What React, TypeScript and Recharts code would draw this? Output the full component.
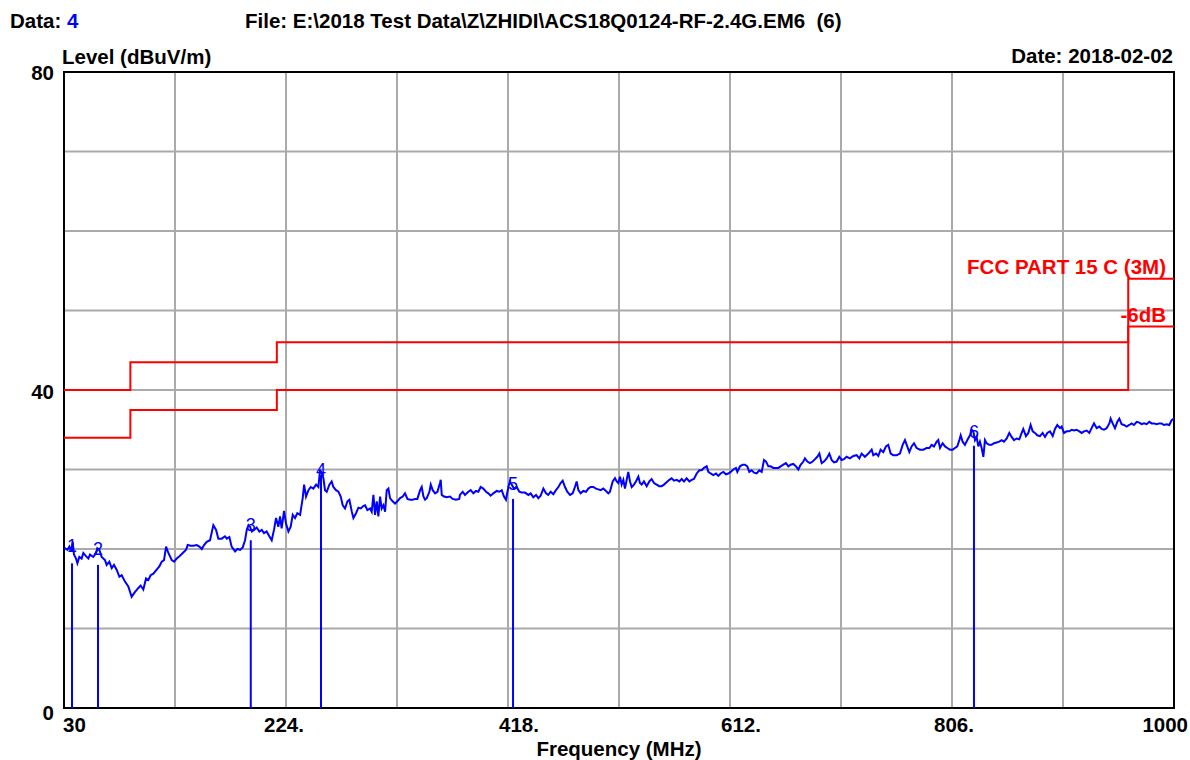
import React from "react";
import {
  LineChart,
  Line,
  XAxis,
  YAxis,
  CartesianGrid,
  ReferenceLine,
  ReferenceDot,
  ReferenceArea,
} from "recharts";

const FONT = '"Liberation Sans", Arial, sans-serif';
const BLUE = "#0000ff";
const RED = "#ff0000";

// axis ticks (grid every 97 MHz / 10 dB)
const xTicks = [30, 127, 224, 321, 418, 515, 612, 709, 806, 903, 1000];
const xTickLabels: Record<number, string> = {
  30: "30",
  224: "224.",
  418: "418.",
  612: "612.",
  806: "806.",
  1000: "1000",
};
const yTicks = [0, 10, 20, 30, 40, 50, 60, 70, 80];
const yTickLabels: Record<number, string> = { 0: "0", 40: "40", 80: "80" };

// FCC Part 15 C (3M) limit and the -6dB margin line
const limitMHz = [30, 88, 216, 960, 1000];
const limitLevel = [40, 43.5, 46, 54, 54];
const marginLevel = [34, 37.5, 40, 48, 48];

// markers: frequency, measured level (line), peak reading (label)
const markerNames = ["1", "2", "3", "4", "5", "6"];
const markerMHz = [37.0, 59.7, 193.2, 254.6, 422.4, 825.2];
const markerLevel = [18.2, 18.0, 21.1, 29.3, 26.3, 33.0];
const markerPeak = [20.4, 20.0, 23.0, 29.9, 28.2, 34.7];

// measured trace [MHz, dBuV/m]
const trace: [number, number][] = [
  [30, 20.0], [30.9, 20.1], [32.9, 19.9], [34.7, 20.3], [36.1, 19.7], [37.6, 20.9], [38.7, 19.3],
  [40.5, 18.8], [41.7, 18.2], [43.4, 19.0], [45.4, 18.8], [46.9, 19.5], [49.2, 19.1], [51.3, 18.8],
  [52.7, 19.3], [55.6, 19.0], [58.0, 19.5], [59.1, 20.1], [60.9, 19.9], [62.9, 19.0], [65.8, 18.6],
  [67.3, 18.0], [69.6, 18.4], [71.7, 17.6], [73.7, 18.0], [76.0, 17.4], [78.4, 16.5], [80.4, 16.7],
  [83.3, 15.9], [86.2, 15.3], [89.1, 14.0], [92.1, 14.6], [95.0, 15.1], [97.0, 15.4], [99.3, 14.9],
  [101.7, 16.3], [103.7, 16.1], [105.7, 16.7], [108.1, 16.9], [111.0, 17.4], [113.3, 17.8],
  [115.4, 18.4], [117.4, 18.6], [119.2, 20.3], [121.2, 19.5], [124.2, 18.6], [126.2, 18.4],
  [128.5, 18.8], [130.9, 19.1], [133.8, 19.5], [136.7, 19.9], [138.1, 20.5], [140.7, 20.4],
  [143.1, 20.4], [146.0, 20.5], [148.3, 20.3], [150.4, 20.0], [152.4, 20.5], [154.7, 20.9],
  [157.6, 21.1], [160.5, 23.0], [162.9, 22.4], [164.9, 21.3], [167.8, 21.3], [170.7, 21.6],
  [172.2, 21.3], [174.5, 21.5], [176.5, 20.3], [179.5, 19.7], [181.5, 20.0], [183.9, 19.9],
  [186.2, 20.2], [188.2, 21.1], [189.7, 22.4], [191.2, 23.0], [192.6, 22.8], [194.1, 22.2],
  [196.1, 22.4], [198.4, 22.7], [200.7, 22.2], [202.8, 22.4], [204.8, 22.0], [207.1, 22.2],
  [209.4, 21.6], [211.5, 21.1], [213.5, 22.4], [215.3, 23.9], [217.3, 22.8], [218.8, 24.1],
  [220.2, 22.6], [222.3, 24.8], [224.0, 23.2], [226.1, 22.2], [228.1, 22.8], [229.9, 24.3],
  [231.9, 23.9], [233.9, 24.5], [236.3, 24.3], [238.6, 26.4], [239.8, 28.1], [241.5, 26.6],
  [243.6, 27.4], [245.6, 27.8], [247.9, 27.6], [250.3, 28.1], [252.3, 27.8], [253.8, 30.0],
  [255.2, 29.5], [256.7, 28.9], [258.1, 27.4], [259.6, 27.2], [261.9, 28.1], [263.9, 28.5],
  [265.4, 27.8], [267.7, 27.4], [269.8, 27.2], [271.8, 26.6], [273.6, 25.5], [275.6, 25.1],
  [277.7, 26.0], [279.4, 26.2], [281.5, 24.7], [282.9, 23.9], [285.2, 24.5], [287.3, 25.2],
  [289.3, 25.1], [291.6, 25.4], [293.1, 25.5], [295.1, 24.9], [297.5, 25.1], [298.9, 24.7],
  [300.4, 26.8], [301.8, 24.3], [303.3, 26.0], [304.7, 24.1], [306.2, 26.6], [307.6, 25.1],
  [309.1, 25.5], [310.6, 24.7], [312.0, 27.4], [313.5, 27.6], [314.9, 26.4], [317.2, 26.0],
  [319.3, 25.7], [321.3, 26.0], [323.7, 26.4], [326.0, 26.6], [328.0, 27.0], [330.1, 26.3],
  [332.4, 26.2], [334.7, 26.2], [336.8, 26.3], [338.8, 26.3], [341.2, 27.4], [342.6, 27.8],
  [344.1, 26.6], [345.5, 26.2], [347.0, 26.4], [349.3, 27.2], [350.5, 28.1], [352.2, 27.4],
  [354.3, 27.0], [356.3, 27.2], [358.6, 28.3], [359.2, 28.7], [360.1, 26.8], [362.1, 26.6],
  [364.4, 26.5], [367.3, 26.6], [369.7, 26.3], [372.5, 26.2], [375.4, 26.3],
  [376.0, 26.8], [378.4, 27.2], [380.4, 26.8], [383.3, 27.2], [385.4, 27.4], [387.7, 27.0],
  [390.0, 27.3], [392.1, 27.2], [394.1, 27.8], [396.4, 27.6], [398.8, 27.2], [400.8, 27.0],
  [402.8, 26.7], [405.2, 27.0], [408.1, 27.3], [410.4, 27.2], [412.5, 27.4], [414.5, 26.6],
  [416.2, 26.2], [418.3, 27.8], [419.7, 28.5], [421.2, 28.1], [423.2, 27.6], [425.6, 27.8],
  [427.9, 27.2], [429.9, 27.1], [432.8, 27.1], [435.8, 26.8], [437.8, 27.0], [440.1, 26.5],
  [442.5, 26.8], [444.5, 26.4], [446.5, 26.7], [448.9, 27.6], [451.2, 27.0], [453.2, 26.8],
  [455.3, 27.2], [457.6, 26.9], [459.9, 27.4], [462.0, 27.8], [464.0, 28.3], [465.8, 28.6],
  [467.8, 27.8], [469.8, 27.2], [472.2, 26.8], [474.5, 27.0], [476.5, 27.8], [478.0, 28.5],
  [479.5, 27.4], [481.5, 27.0], [483.8, 27.3], [486.2, 27.2], [488.2, 27.6], [490.2, 27.8],
  [492.6, 27.8], [494.9, 27.6], [496.9, 27.5], [499.0, 27.4], [501.3, 27.6], [503.6, 27.3],
  [505.7, 27.0], [507.1, 27.2], [509.5, 28.5], [511.5, 28.9], [513.0, 28.5], [514.4, 28.3],
  [515.9, 29.1], [517.3, 28.1], [518.8, 28.7], [520.2, 27.6], [521.7, 28.7], [523.1, 29.7],
  [524.6, 28.5], [526.1, 27.8], [528.1, 28.1], [529.8, 28.5], [531.9, 29.1], [533.3, 28.3],
  [534.8, 28.1], [536.8, 28.5], [539.2, 27.9], [541.5, 28.5], [543.5, 28.8], [545.6, 28.3],
  [547.9, 28.1], [550.2, 27.9], [552.3, 27.9], [554.3, 28.1], [556.6, 28.4], [559.0, 28.7],
  [561.0, 28.9], [563.1, 28.6], [565.4, 28.7], [567.7, 28.5], [569.8, 28.8], [571.8, 28.5],
  [574.1, 28.9], [576.5, 28.5], [578.5, 28.7], [580.5, 28.8], [582.9, 29.5], [585.2, 29.9],
  [587.2, 29.9], [589.3, 30.2], [591.6, 30.4], [593.1, 29.7], [595.1, 29.5], [597.4, 29.3],
  [599.8, 29.5], [601.8, 29.2], [603.8, 29.5], [606.2, 29.7], [608.5, 29.4], [610.5, 29.5],
  [612.6, 29.7], [614.9, 30.0], [617.2, 30.2], [618.4, 29.7], [620.7, 30.4], [623.1, 30.6],
  [625.1, 30.6], [627.1, 30.4], [628.9, 29.7], [630.9, 29.9], [633.0, 29.6], [635.3, 29.5],
  [637.6, 29.9], [639.7, 29.7], [641.7, 31.2], [643.5, 31.0], [645.5, 30.4], [647.5, 30.4],
  [649.9, 30.2], [652.2, 30.2], [654.2, 30.2], [656.3, 30.4], [658.6, 30.6], [660.9, 30.8],
  [663.0, 30.4], [665.0, 30.6], [667.3, 30.7], [669.7, 30.4], [671.7, 30.0], [673.7, 30.6],
  [676.1, 31.0], [677.5, 31.4], [679.6, 31.0], [681.9, 30.8], [684.2, 31.0], [686.3, 31.3],
  [688.3, 31.6], [690.1, 32.0], [692.1, 30.8], [694.1, 31.0], [696.5, 31.4], [698.8, 32.0],
  [700.8, 31.2], [702.9, 30.9], [705.2, 31.0], [707.5, 31.6], [709.6, 31.2], [711.6, 31.3],
  [713.9, 31.6],
  [716.8, 31.4], [719.8, 31.7], [722.7, 31.8], [725.0, 31.4], [727.0, 32.0], [729.9, 31.6],
  [732.9, 32.0], [735.8, 32.5], [737.2, 31.8], [739.6, 32.0], [741.6, 31.7], [743.6, 32.5],
  [746.0, 32.2], [748.3, 32.9], [750.3, 33.1], [752.4, 32.0], [754.7, 31.8], [757.6, 31.8],
  [760.5, 32.0], [762.9, 33.1], [764.9, 33.7], [766.4, 33.1], [768.7, 32.2], [770.7, 32.9],
  [772.8, 33.3], [775.1, 32.7], [778.0, 32.5], [780.9, 32.5], [783.8, 32.7], [786.2, 32.7],
  [788.2, 33.1], [790.2, 32.9], [792.6, 33.5], [794.0, 33.7], [795.5, 32.7], [797.8, 33.3],
  [799.9, 32.9], [801.9, 32.7], [804.2, 32.5], [806.6, 32.5], [808.6, 32.7], [810.6, 32.9],
  [812.4, 33.7], [813.6, 34.3], [815.3, 33.5], [817.3, 33.1], [819.4, 33.7], [821.7, 34.3],
  [823.2, 35.0], [824.6, 34.8], [826.1, 33.7], [827.5, 34.1], [829.0, 32.9], [830.4, 33.5],
  [831.9, 32.7], [833.4, 31.6], [834.8, 33.7], [836.3, 33.3], [838.6, 33.1], [840.6, 33.1],
  [842.7, 33.3], [845.0, 33.4], [847.3, 33.5], [849.4, 33.7], [851.4, 33.5], [853.8, 33.9],
  [856.1, 34.6], [858.1, 34.1], [860.2, 33.7], [862.5, 33.9], [864.8, 33.8], [866.9, 34.6],
  [868.3, 35.1], [870.6, 34.2], [872.7, 34.6], [874.7, 35.6], [876.5, 34.8], [878.5, 34.6],
  [880.5, 34.3], [882.9, 34.2], [885.2, 34.6], [887.3, 34.1], [889.3, 34.6], [891.6, 34.8],
  [894.0, 34.2], [896.0, 35.1], [898.0, 35.6], [900.4, 35.2], [901.8, 35.4], [903.9, 34.6],
  [906.2, 34.8], [908.5, 34.8], [910.6, 35.0], [912.6, 34.9], [914.9, 35.0], [917.3, 34.8],
  [919.3, 34.6], [921.3, 34.8], [923.7, 34.9], [926.0, 34.6], [928.0, 35.2], [930.1, 35.8],
  [932.4, 35.2], [934.7, 35.4], [936.8, 35.1], [938.8, 35.0], [941.1, 35.2], [943.5, 35.8],
  [944.6, 36.4], [946.4, 35.8], [948.4, 35.2], [950.5, 36.0], [952.2, 36.4], [954.2, 35.7],
  [956.3, 35.6], [958.6, 35.4], [960.9, 35.6], [963.0, 35.8], [965.0, 35.6], [967.4, 36.0],
  [969.7, 35.9], [971.7, 35.7], [973.8, 35.8], [976.1, 35.7], [978.4, 36.0], [980.5, 35.8],
  [982.5, 35.8], [984.8, 35.7], [987.2, 35.8], [989.2, 35.8], [991.2, 35.6], [993.6, 35.7],
  [995.9, 35.6], [997.9, 36.2], [1000, 36.4],
];

const traceData = trace.map(([f, v]) => ({ f, v }));
const limitData = limitMHz.map((f, i) => ({ f, v: limitLevel[i] }));
const marginData = limitMHz.map((f, i) => ({ f, v: marginLevel[i] }));

// label placement tweaks for the frequency ticks
const xLabelPos: Record<number, { dx: number; anchor: string }> = {
  30: { dx: -1, anchor: "start" },
  224: { dx: -2, anchor: "middle" },
  418: { dx: 11, anchor: "middle" },
  612: { dx: 11, anchor: "middle" },
  806: { dx: 2, anchor: "middle" },
  1000: { dx: 14, anchor: "end" },
};
const yLabelDy: Record<number, number> = { 0: 4, 40: 1, 80: 0 };

const XTick = (props: any) => {
  const { x, y, payload } = props;
  const label = xTickLabels[payload.value];
  if (!label) return <g />;
  const pos = xLabelPos[payload.value];
  return (
    <text
      x={x + pos.dx}
      y={y + 24}
      textAnchor={pos.anchor}
      fontFamily={FONT}
      fontWeight="bold"
      fontSize={20.5}
      fill="#000"
    >
      {label}
    </text>
  );
};

const YTick = (props: any) => {
  const { x, y, payload } = props;
  const label = yTickLabels[payload.value];
  if (!label) return <g />;
  return (
    <text
      x={x - 10}
      y={y + yLabelDy[payload.value]}
      textAnchor="end"
      dominantBaseline="central"
      fontFamily={FONT}
      fontWeight="bold"
      fontSize={20.5}
      fill="#000"
    >
      {label}
    </text>
  );
};

const textStyle = { fontFamily: FONT, fontWeight: "bold" as const, fontSize: 20.5 };

export default function App() {
  return (
    <div
      style={{
        position: "absolute",
        left: 0,
        top: 0,
        width: 1190,
        height: 760,
        background: "#fff",
        overflow: "hidden",
      }}
    >
      <LineChart
        width={1190}
        height={760}
        margin={{ top: 72, right: 16, bottom: 12, left: 4 }}
      >
        <CartesianGrid stroke="#aaaaaa" strokeWidth={2} />
        <XAxis
          dataKey="f"
          type="number"
          domain={[30, 1000]}
          ticks={xTicks}
          interval={0}
          height={40}
          tickSize={0}
          tickMargin={0}
          axisLine={false}
          tickLine={false}
          tick={<XTick />}
          allowDataOverflow
        />
        <YAxis
          type="number"
          domain={[0, 80]}
          ticks={yTicks}
          interval={0}
          width={60}
          tickSize={0}
          tickMargin={0}
          axisLine={false}
          tickLine={false}
          tick={<YTick />}
          allowDataOverflow
        />
        <Line
          data={marginData}
          dataKey="v"
          type="stepAfter"
          stroke={RED}
          strokeWidth={2}
          dot={false}
          isAnimationActive={false}
        />
        <Line
          data={limitData}
          dataKey="v"
          type="stepAfter"
          stroke={RED}
          strokeWidth={2}
          dot={false}
          isAnimationActive={false}
        />
        <Line
          data={traceData}
          dataKey="v"
          type="linear"
          stroke={BLUE}
          strokeWidth={2}
          dot={false}
          isAnimationActive={false}
        />
        {markerMHz.map((f, i) => (
          <ReferenceLine
            key={"m" + i}
            segment={[
              { x: f, y: 0 },
              { x: f, y: markerLevel[i] },
            ]}
            stroke={BLUE}
            strokeWidth={2}
          />
        ))}
        {markerMHz.map((f, i) => (
          <ReferenceDot
            key={"l" + i}
            x={f}
            y={markerPeak[i]}
            r={0}
            shape={(p: any) => (
              <text
                x={p.cx}
                y={p.cy}
                textAnchor="middle"
                dominantBaseline="central"
                fontFamily={FONT}
                fontSize={18}
                fill={BLUE}
              >
                {markerNames[i]}
              </text>
            )}
          />
        ))}
        <ReferenceArea
          x1={30}
          x2={1000}
          y1={0}
          y2={80}
          fill="none"
          stroke="#000"
          strokeWidth={2}
          ifOverflow="visible"
        />
      </LineChart>
      <svg
        width={1190}
        height={760}
        style={{ position: "absolute", left: 0, top: 0, pointerEvents: "none" }}
      >
        <text x={10} y={28} {...textStyle} fill="#000">
          Data: <tspan fill={BLUE}>4</tspan>
        </text>
        <text x={245} y={28} {...textStyle} fill="#000" style={{ whiteSpace: "pre" }}>
          {"File: E:\\2018 Test Data\\Z\\ZHIDI\\ACS18Q0124-RF-2.4G.EM6  (6)"}
        </text>
        <text x={62} y={64} {...textStyle} fill="#000">
          Level (dBuV/m)
        </text>
        <text x={1173} y={63} {...textStyle} fill="#000" textAnchor="end">
          Date: 2018-02-02
        </text>
        <text x={1166} y={274} {...textStyle} fill={RED} textAnchor="end">
          FCC PART 15 C (3M)
        </text>
        <text x={1166} y={322} {...textStyle} fill={RED} textAnchor="end">
          -6dB
        </text>
        <text x={619} y={756} {...textStyle} fill="#000" textAnchor="middle">
          Frequency (MHz)
        </text>
      </svg>
    </div>
  );
}
